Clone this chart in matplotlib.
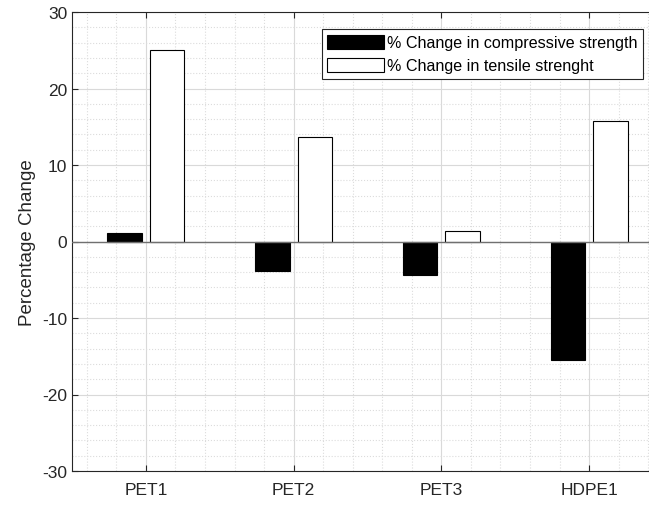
import numpy as np
import matplotlib.pyplot as plt
from matplotlib.ticker import MultipleLocator

plt.rcParams['font.family'] = ['Liberation Sans', 'DejaVu Sans']
plt.rcParams['axes.unicode_minus'] = False

# values
categories = ['PET1', 'PET2', 'PET3', 'HDPE1']
compressive = [1.1, -3.9, -4.4, -15.5]
tensile = [25.0, 13.7, 1.4, 15.8]

fig = plt.figure(figsize=(6.49, 5.06), dpi=100)
ax = fig.add_axes([72 / 649, 34 / 506, 591 / 649, 459 / 506])

x = np.arange(1, len(categories) + 1)
w = 0.233
off = 0.1435
ax.bar(x - off, compressive, w, color='black', edgecolor='black', linewidth=0.8,
       label='% Change in compressive strength', zorder=3)
ax.bar(x + off, tensile, w, color='white', edgecolor='black', linewidth=0.8,
       label='% Change in tensile strenght', zorder=3)
ax.axhline(0, color='#707070', linewidth=1.0, zorder=4)

ax.set_xlim(0.5, 4.5)
ax.set_ylim(-30, 30)
ax.set_xticks(x)
ax.set_xticklabels(categories)
ax.set_yticks(np.arange(-30, 31, 10))
ax.xaxis.set_minor_locator(MultipleLocator(0.2))
ax.yaxis.set_minor_locator(MultipleLocator(2))

ax.grid(True, which='major', color='#d9d9d9', linewidth=0.8, zorder=0)
ax.grid(True, which='minor', color='#dcdcdc', linestyle=':', linewidth=0.8, zorder=0)
ax.set_axisbelow(True)

ax.tick_params(which='major', direction='in', length=4, width=0.8, color='#262626',
               labelsize=12.5, labelcolor='#262626', top=True, right=True)
ax.tick_params(axis='x', which='major', pad=8)
ax.tick_params(axis='y', which='major', pad=3.5)
ax.tick_params(which='minor', length=0)
for s in ax.spines.values():
    s.set_color('#262626')
    s.set_linewidth(0.8)

ax.set_ylabel('Percentage Change', fontsize=13.5, color='#262626', labelpad=4)

leg = ax.legend(loc='upper right', bbox_to_anchor=(0.966, 0.963), borderaxespad=0,
                fontsize=11.6, handlelength=3.5, handleheight=1.0, handletextpad=0.2,
                labelspacing=0.45, borderpad=0.35, fancybox=False, framealpha=1,
                edgecolor='#262626')
leg.get_frame().set_linewidth(0.8)

fig.savefig('out.png', dpi=100)
